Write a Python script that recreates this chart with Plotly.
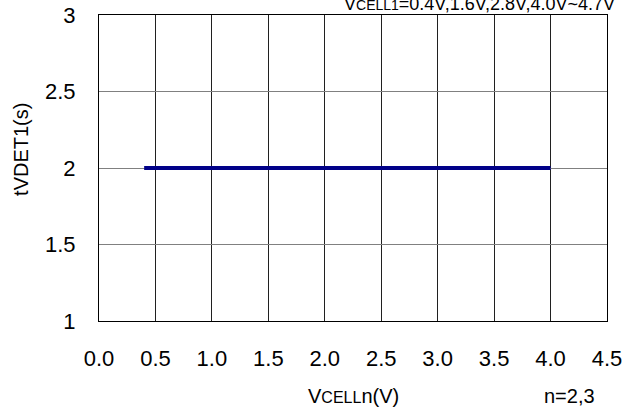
import plotly.graph_objects as go

vcell = [0.4, 1.6, 2.8, 4.0]
tvdet1 = [2.0, 2.0, 2.0, 2.0]
x_ticks = [0.0, 0.5, 1.0, 1.5, 2.0, 2.5, 3.0, 3.5, 4.0, 4.5]
y_ticks = [1, 1.5, 2, 2.5, 3]
y_tick_labels = ["1", "1.5", "2", "2.5", "3"]

FONT = "Liberation Sans, Arial, sans-serif"

fig = go.Figure()
fig.add_trace(go.Scatter(x=vcell, y=tvdet1, mode="lines",
                         line=dict(color="#000088", width=4), showlegend=False))

fig.update_layout(
    width=628, height=416,
    margin=dict(l=99, r=21, t=15, b=95),
    paper_bgcolor="white", plot_bgcolor="white",
    font=dict(family=FONT, size=20, color="black"),
    xaxis=dict(range=[0, 4.5], tickvals=x_ticks, ticktext=[f"{v:.1f}" for v in x_ticks],
               showgrid=True, gridcolor="#202020", gridwidth=1,
               showline=True, linecolor="black", linewidth=1, mirror=True,
               ticks="outside", ticklen=18, tickcolor="rgba(0,0,0,0)", zeroline=False,
               tickfont=dict(size=22), automargin=False),
    yaxis=dict(range=[1, 3], tickvals=y_ticks, ticktext=y_tick_labels,
               showgrid=True, gridcolor="#808080", gridwidth=1,
               showline=True, linecolor="black", linewidth=1, mirror=True,
               ticks="outside", ticklen=18, tickcolor="rgba(0,0,0,0)", zeroline=False,
               tickfont=dict(size=22), automargin=False),
)

fig.add_annotation(xref="paper", yref="paper", x=-0.155, y=0.56, xanchor="center", yanchor="middle",
                   text="tVDET1(s)", textangle=-90, showarrow=False, font=dict(size=20))
fig.add_annotation(xref="paper", yref="paper", x=0.5, y=-0.245, xanchor="center", yanchor="middle",
                   text="V<span style='font-size:16px'>CELL</span>n(V)", showarrow=False,
                   font=dict(size=20))
fig.add_annotation(xref="paper", yref="paper", x=0.98, y=-0.245, xanchor="right", yanchor="middle",
                   text="n=2,3", showarrow=False, font=dict(size=20))
fig.add_annotation(xref="paper", yref="paper", x=1.02, y=0.996, xanchor="right", yanchor="bottom",
                   text="V<span style='font-size:14px'>CELL1</span>=0.4V,1.6V,2.8V,4.0V~4.7V",
                   showarrow=False, font=dict(size=18))

fig.write_html("out.html", config={"displayModeBar": False},
               post_script="document.body.style.margin='0';")
